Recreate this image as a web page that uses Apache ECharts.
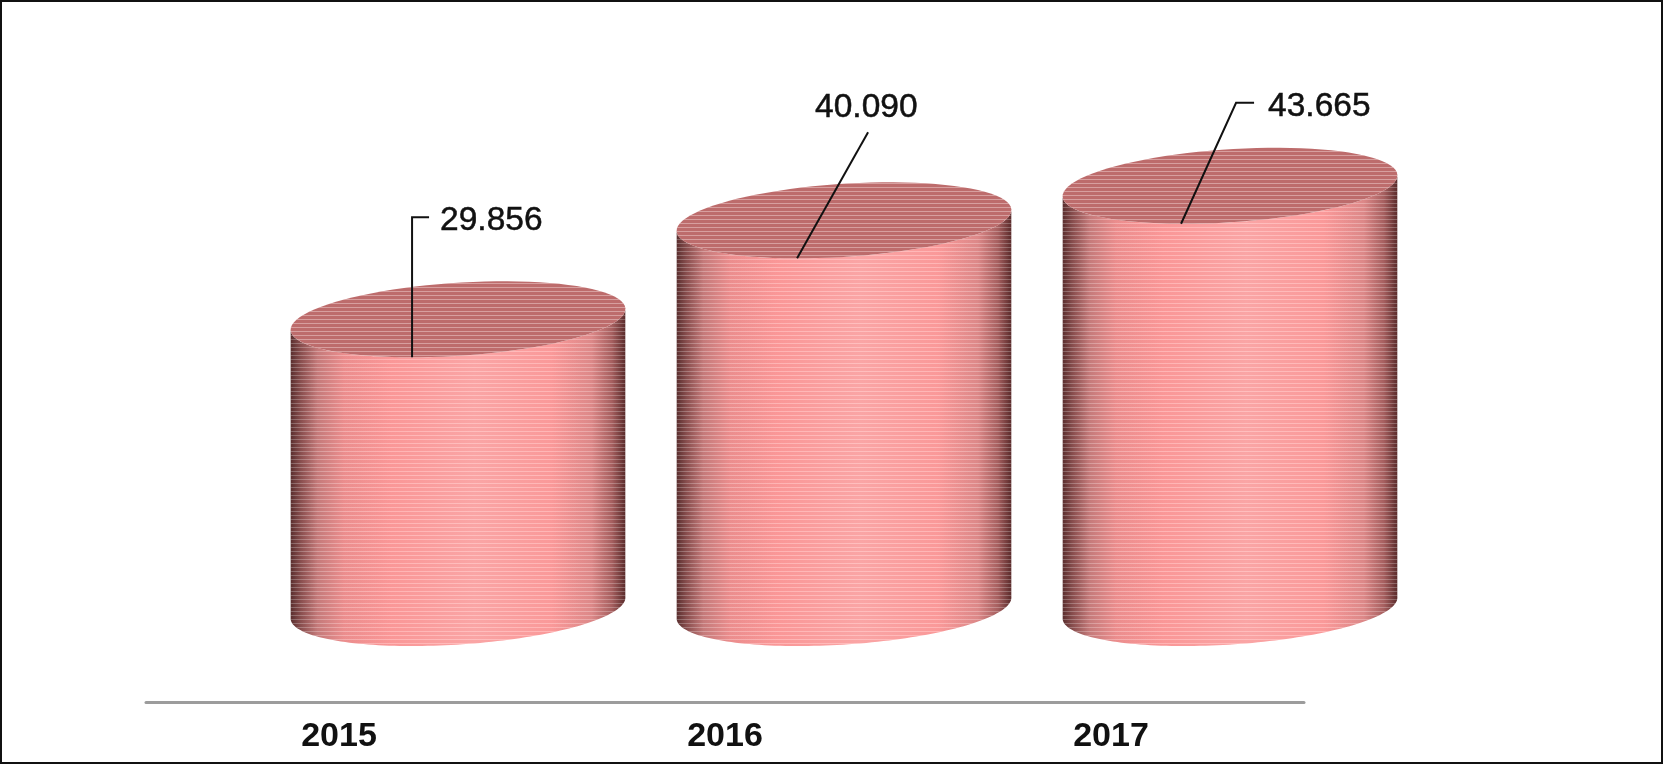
<!DOCTYPE html>
<html>
<head>
<meta charset="utf-8">
<style>html,body{margin:0;padding:0;background:#fff}#c{width:1664px;height:765px}</style>
<script src="https://cdn.jsdelivr.net/npm/echarts@6/dist/echarts.min.js"></script>
</head>
<body>
<div id="c"></div>
<script>
const categories = ['2015', '2016', '2017'];
const values = [29856, 40090, 43665];
const valueLabels = ['29.856', '40.090', '43.665'];

// Leader-line geometry relative to the bottom of each cylinder's top ellipse
const leaderStarts = [[0, 0], [-1, 0], [-3, 0]];
const leaderPaths = [[[0, -140], [17, -140]], [[70, -126]], [[52, -121], [70, -121]]];
const labelOffsets = [[28, -137], [17, -151], [84, -117]];

// Pseudo-3D look: floor depth shift and ellipse shape
const depthX = 119, depthY = -94;
const radiusRatio = 0.4345, minorRatio = 0.0946, tilt = 3.74 * Math.PI / 180;

function stripes(light, dark) {
  const cv = document.createElement('canvas');
  cv.width = 4; cv.height = 4;
  const g = cv.getContext('2d');
  g.fillStyle = dark; g.fillRect(0, 0, 4, 3);
  g.fillStyle = light; g.fillRect(0, 3, 4, 1);
  return cv;
}
const bodyPattern = stripes('rgba(255,255,255,0.24)', 'rgba(90,0,0,0.03)');
const topPattern = stripes('rgba(255,235,235,0.40)', 'rgba(0,0,0,0)');

function ellipsePoint(cx, cy, a, b, t) {
  const ex = a * Math.cos(t), ey = b * Math.sin(t);
  return [cx + ex * Math.cos(tilt) + ey * Math.sin(tilt),
          cy - ex * Math.sin(tilt) + ey * Math.cos(tilt)];
}
function arc(cx, cy, a, b, t0, t1) {
  const out = [];
  for (let i = 0; i <= 90; i++) out.push(ellipsePoint(cx, cy, a, b, t0 + (t1 - t0) * i / 90));
  return out;
}

function renderItem(params, api) {
  const idx = api.value(0);
  const top = api.coord([idx, api.value(1)]);
  const base = api.coord([idx, 0]);
  const band = api.size([1, 0])[0];
  const a = band * radiusRatio, b = band * minorRatio;
  const cx = top[0] + depthX, ty = top[1] + depthY, by = base[1] + depthY;
  const tan = Math.atan2(b * Math.sin(tilt), a * Math.cos(tilt));
  const body = arc(cx, by, a, b, -tan, Math.PI - tan)
    .concat(arc(cx, ty, a, b, Math.PI - tan, -tan));
  const disc = arc(cx, ty, a, b, 0, Math.PI * 2);
  const grad = new echarts.graphic.LinearGradient(0, 0, 1, 0, [
    { offset: 0, color: '#5a3030' }, { offset: 0.03, color: '#8a5050' },
    { offset: 0.08, color: '#c87e7e' }, { offset: 0.16, color: '#f09292' },
    { offset: 0.3, color: '#ff9c9c' }, { offset: 0.55, color: '#ffaaaa' },
    { offset: 0.78, color: '#ff9e9e' }, { offset: 0.9, color: '#e08c8c' },
    { offset: 0.96, color: '#a86262' }, { offset: 1, color: '#5a2c2c' }
  ]);
  const ax = cx - band * 0.119, ay = ty + band * 0.0984;
  const i = params.dataIndex;
  const s = leaderStarts[i];
  const line = [[ax + s[0], ay + s[1]]].concat(leaderPaths[i].map(p => [ax + p[0], ay + p[1]]));
  const lab = labelOffsets[i];
  return {
    type: 'group',
    children: [
      { type: 'polygon', shape: { points: body }, style: { fill: grad } },
      { type: 'polygon', shape: { points: body }, style: { fill: { image: bodyPattern, repeat: 'repeat' } } },
      { type: 'polygon', shape: { points: disc }, style: { fill: '#bd6c6c' } },
      { type: 'polygon', shape: { points: disc }, style: { fill: { image: topPattern, repeat: 'repeat' } } },
      { type: 'polyline', shape: { points: line }, style: { stroke: '#111', lineWidth: 2, fill: 'none' } },
      { type: 'text', style: { text: valueLabels[i], x: ax + lab[0], y: ay + lab[1],
          font: '33.5px "Liberation Sans", Arial, sans-serif', fill: '#111', stroke: '#111', lineWidth: 0.5,
          verticalAlign: 'middle', textAlign: 'left' } }
    ]
  };
}

const chart = echarts.init(document.getElementById('c'), null, { renderer: 'canvas' });
chart.setOption({
  animation: false,
  backgroundColor: '#fff',
  grid: { left: 146, right: 360, top: 218.5, bottom: 63 },
  xAxis: {
    type: 'category', data: categories,
    axisTick: { show: false },
    axisLine: { lineStyle: { color: '#9c9c9c', width: 3 } },
    axisLabel: { color: '#111', fontFamily: '"Liberation Sans", Arial, sans-serif', fontWeight: 'bold', fontSize: 34, margin: 18 }
  },
  yAxis: { type: 'value', min: 0, max: 50000, show: false, splitLine: { show: false } },
  series: [{
    type: 'custom',
    coordinateSystem: 'cartesian2d',
    clip: false,
    renderItem,
    encode: { x: 0, y: 1 },
    data: values.map((v, i) => [i, v])
  }],
  graphic: [{
    type: 'rect', silent: true, z: 100,
    shape: { x: 1, y: 1, width: 1661, height: 762 },
    style: { fill: 'none', stroke: '#111', lineWidth: 2 }
  }]
});
</script>
</body>
</html>
